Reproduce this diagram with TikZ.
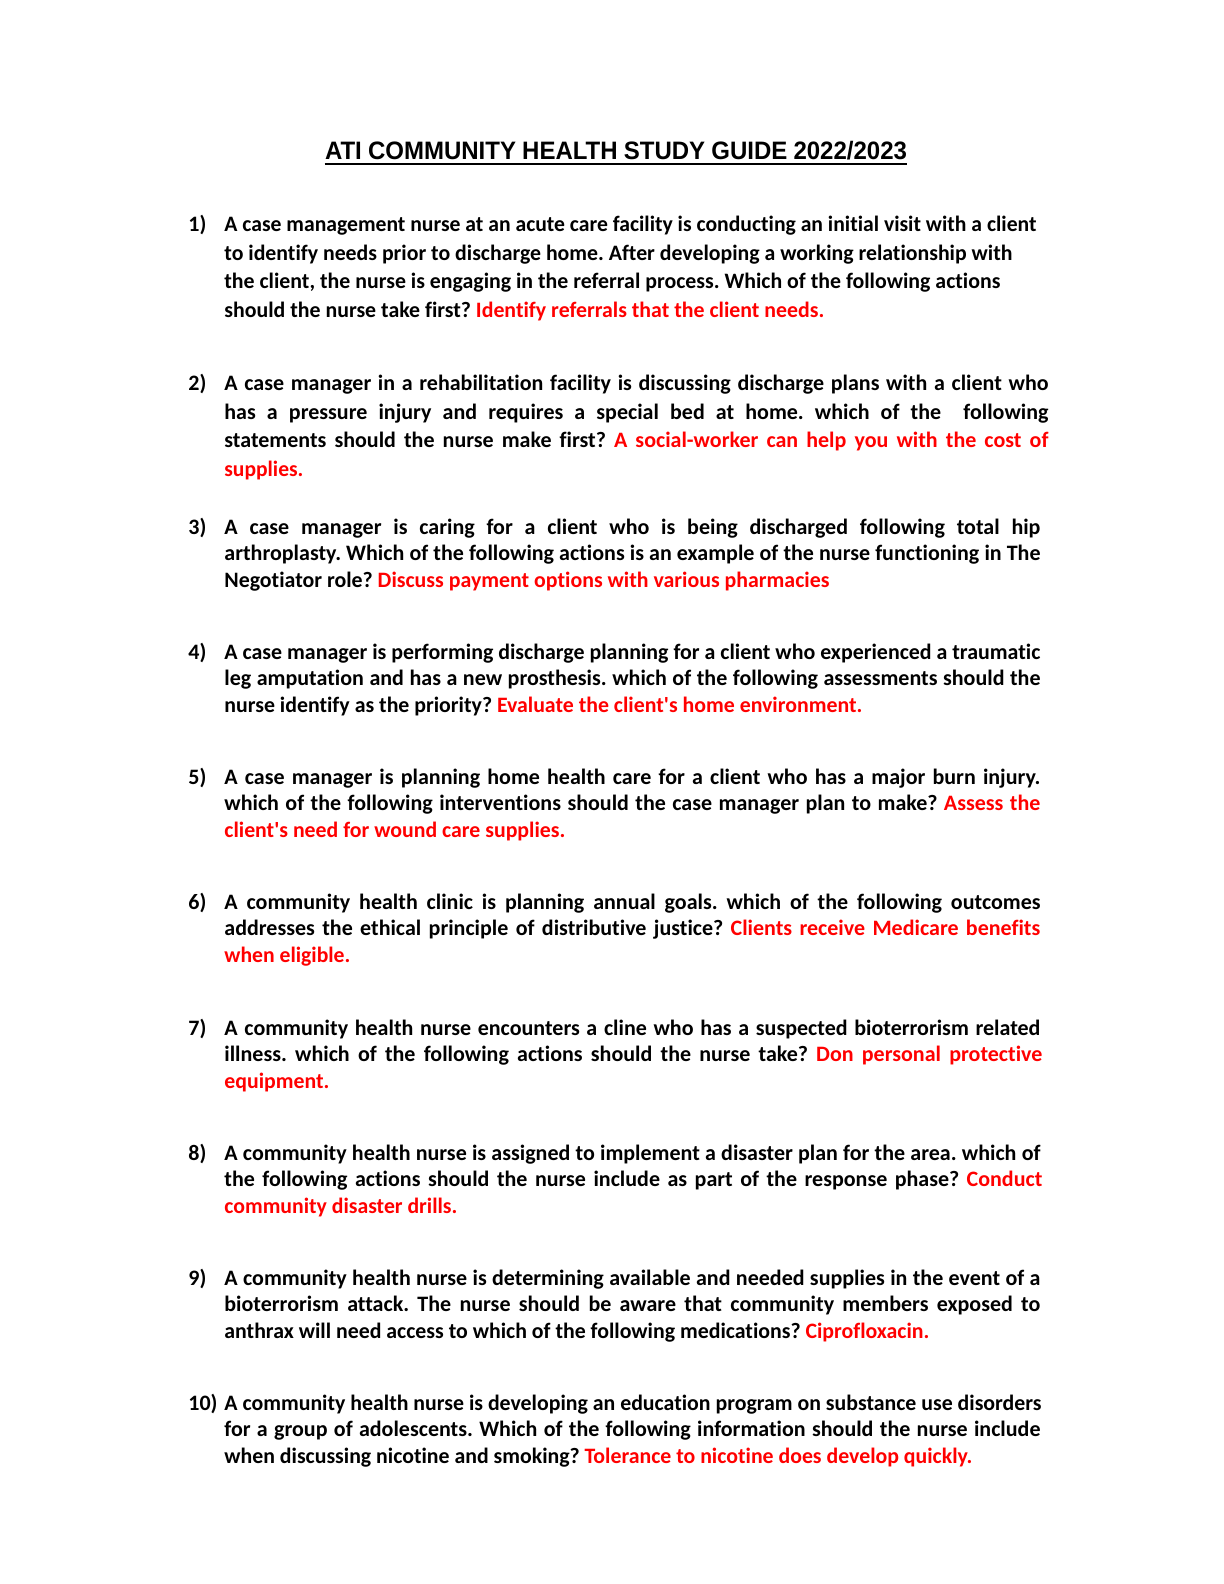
\documentclass[tikz,border=0pt]{standalone}
\usepackage{graphicx}
\usepackage{fontspec}
\setmainfont{Carlito}[Ligatures={NoCommon}]
\newfontfamily\titlefont{Liberation Sans}
\definecolor{ansred}{RGB}{255,0,0}
\newsavebox\lnbox
\newcommand\fitln[2]{\sbox\lnbox{#2}\ifdim\wd\lnbox>#1\relax\scalebox{\fpeval{\number\dimexpr#1\relax/\number\wd\lnbox}}[1]{\usebox\lnbox}\else\makebox[#1][s]{#2}\fi}
\newcommand\ans[1]{\textcolor{ansred}{#1}}
\newcommand\apos{\textquotesingle}
\tikzset{
  txt/.style={anchor=base west, inner sep=0pt, font=\fontsize{11}{13}\selectfont\bfseries\frenchspacing},
  num/.style={anchor=base west, inner sep=0pt, font=\fontsize{11}{13}\selectfont\bfseries},
  ttl/.style={anchor=base, inner sep=0pt, font=\titlefont\fontsize{12}{14}\selectfont\bfseries}
}
\begin{document}
\begin{tikzpicture}[x=0.5pt,y=-0.5pt]
\useasboundingbox[fill=white] (0,0) rectangle (1224,1584);
\node[ttl] (title) at (616,160) {\scalebox{1}[1.05]{\makebox[291pt][s]{ATI COMMUNITY HEALTH STUDY GUIDE 2022/2023}}};
\draw[line width=1pt] ([yshift=-2.2pt]title.base west) -- ([yshift=-2.2pt]title.base east);
% Q1
\node[num] (n1) at (188,231.5) {1)};
\node[txt] (q1a) at (224,231.5) {\fitln{406pt}{A case management nurse at an acute care facility is conducting an initial visit with a client}};
\node[txt] (q1b) at (224,260) {\fitln{394pt}{to identify needs prior to discharge home. After developing a working relationship with}};
\node[txt] (q1c) at (224,288.7) {\fitln{388pt}{the client, the nurse is engaging in the referral process. Which of the following actions}};
\node[txt] (q1d) at (224,317.3) {\fitln{300pt}{should the nurse take first? \ans{Identify referrals that the client needs.}}};
% Q2
\node[num] (n2) at (188,390) {2)};
\node[txt] (q2a) at (224,390) {\fitln{412pt}{A case manager in a rehabilitation facility is discussing discharge plans with a client who}};
\node[txt] (q2b) at (224,419) {\fitln{412pt}{has a pressure injury and requires a special bed at home. which of the\ \ following}};
\node[txt] (q2c) at (224,447) {\fitln{412pt}{statements should the nurse make first? \ans{A social-worker can help you with the cost of}}};
\node[txt] (q2d) at (224,476) {\fitln{39.5pt}{\ans{supplies.}}};
% Q3
\node[num] (n3) at (188,534) {3)};
\node[txt] (q3a) at (224,534) {\fitln{408pt}{A case manager is caring for a client who is being discharged following total hip}};
\node[txt] (q3b) at (224,560.5) {\fitln{408pt}{arthroplasty. Which of the following actions is an example of the nurse functioning in The}};
\node[txt] (q3c) at (224,587) {\fitln{302.5pt}{Negotiator role? \ans{Discuss payment options with various pharmacies}}};
% Q4
\node[num] (n4) at (188,659) {4)};
\node[txt] (q4a) at (224,659) {\fitln{408pt}{A case manager is performing discharge planning for a client who experienced a traumatic}};
\node[txt] (q4b) at (224,685.5) {\fitln{408pt}{leg amputation and has a new prosthesis. which of the following assessments should the}};
\node[txt] (q4c) at (224,712) {\fitln{319pt}{nurse identify as the priority? \ans{Evaluate the client\apos s home environment.}}};
% Q5
\node[num] (n5) at (188,784) {5)};
\node[txt] (q5a) at (224,784) {\fitln{408pt}{A case manager is planning home health care for a client who has a major burn injury.}};
\node[txt] (q5b) at (224,810.5) {\fitln{408pt}{which of the following interventions should the case manager plan to make? \ans{Assess the}}};
\node[txt] (q5c) at (224,837) {\fitln{170.5pt}{\ans{client\apos s need for wound care supplies.}}};
% Q6
\node[num] (n6) at (188,909) {6)};
\node[txt] (q6a) at (224,909) {\fitln{408pt}{A community health clinic is planning annual goals. which of the following outcomes}};
\node[txt] (q6b) at (224,935.5) {\fitln{408pt}{addresses the ethical principle of distributive justice? \ans{Clients receive Medicare benefits}}};
\node[txt] (q6c) at (224,962) {\fitln{63pt}{\ans{when eligible.}}};
% Q7
\node[num] (n7) at (188,1035) {7)};
\node[txt] (q7a) at (224,1035) {\fitln{408pt}{A community health nurse encounters a cline who has a suspected bioterrorism related}};
\node[txt] (q7b) at (224,1061.5) {\fitln{409pt}{illness. which of the following actions should the nurse take? \ans{Don personal protective}}};
\node[txt] (q7c) at (224,1088) {\fitln{52.5pt}{\ans{equipment.}}};
% Q8
\node[num] (n8) at (188,1160) {8)};
\node[txt] (q8a) at (224,1160) {\fitln{408pt}{A community health nurse is assigned to implement a disaster plan for the area. which of}};
\node[txt] (q8b) at (224,1186.5) {\fitln{409pt}{the following actions should the nurse include as part of the response phase? \ans{Conduct}}};
\node[txt] (q8c) at (224,1213) {\fitln{116.5pt}{\ans{community disaster drills.}}};
% Q9
\node[num] (n9) at (188,1285) {9)};
\node[txt] (q9a) at (224,1285) {\fitln{408pt}{A community health nurse is determining available and needed supplies in the event of a}};
\node[txt] (q9b) at (224,1311.5) {\fitln{408pt}{bioterrorism attack. The nurse should be aware that community members exposed to}};
\node[txt] (q9c) at (224,1338) {\fitln{352.5pt}{anthrax will need access to which of the following medications? \ans{Ciprofloxacin.}}};
% Q10
\node[num] (n10) at (188,1410) {10)};
\node[txt] (q10a) at (224,1410) {\fitln{408.5pt}{A community health nurse is developing an education program on substance use disorders}};
\node[txt] (q10b) at (224,1436.5) {\fitln{408pt}{for a group of adolescents. Which of the following information should the nurse include}};
\node[txt] (q10c) at (224,1463) {\fitln{374pt}{when discussing nicotine and smoking? \ans{Tolerance to nicotine does develop quickly.}}};
\end{tikzpicture}
\end{document}
